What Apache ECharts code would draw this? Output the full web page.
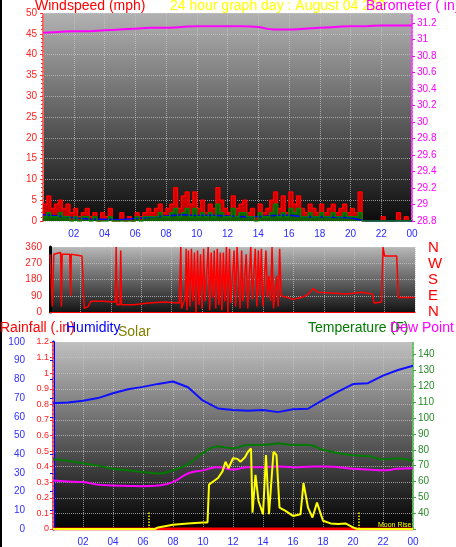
<!DOCTYPE html>
<html><head><meta charset="utf-8">
<script src="https://cdn.jsdelivr.net/npm/echarts@6/dist/echarts.min.js"></script>
<style>html,body{margin:0;padding:0;background:#fff}#c{width:456px;height:547px}</style>
</head><body><div id="c"></div>
<script>
// hourly values (t = 0..24)
const hours = [0,1,2,3,4,5,6,7,8,9,10,11,12,13,14,15,16,17,18,19,20,21,22,23,24];
const barometer = [31.08,31.09,31.10,31.10,31.11,31.12,31.13,31.14,31.14,31.15,31.16,31.16,31.16,31.16,31.15,31.12,31.12,31.13,31.14,31.15,31.16,31.16,31.17,31.17,31.17];
const windAvgBlue = [1.5,1.2,0.8,0.5,0.4,0.3,0.6,0.9,1.2,1.5,1.3,1.4,1.2,1.0,1.0,1.3,1.4,1.0,1.0,0.9,0.8,0,0,0,0];
// 15-minute values
const windGust = [4,6,3,4, 5,3,4,2, 3,1,2,3, 1,2,0,2, 1,3,0,0, 2,0,1,0, 2,1,2,3, 2,3,4,2, 3,4,8,3, 6,7,4,7, 3,5,2,4, 3,8,5,3, 2,6,3,4, 5,2,3,1, 4,2,3,5, 7,3,6,2, 7,4,6,3, 2,4,3,2, 4,2,3,4, 2,3,4,2, 3,2,7,0, 0,0,0,0, 1,0,0,0, 2,0,1,0, 0];
const windAvg = [1,2,1,1, 2,1,1,0, 1,0,1,1, 0,1,0,0, 0,1,0,0, 0,0,0,0, 1,0,1,1, 1,1,2,1, 1,2,3,1, 2,3,1,3, 1,2,1,2, 1,4,2,1, 1,3,1,2, 2,1,1,0, 2,1,1,2, 4,1,2,1, 3,2,3,1, 1,2,1,1, 2,1,1,2, 1,1,2,1, 1,1,2,0, 0,0,0,0, 0,0,0,0, 0,0,0,0, 0];
const windDir = [[0,320],[0.1,330],[0.15,30],[0.25,320],[0.7,330],[0.75,30],[0.8,320],[1.3,320],[1.35,90],[1.4,320],[2.1,310],[2.2,320],[2.25,20],[2.5,30],[2.7,60],[3.5,60],[4.3,55],[4.35,360],[4.4,40],[4.6,40],[4.65,340],[4.7,40],[5.5,40],[6.5,50],[7.5,55],[8.5,50],[8.6,360],[8.65,20],[8.9,80],[8.95,350],[9.0,10],[9.1,340],[9.2,30],[9.3,350],[9.4,60],[9.5,330],[9.6,0],[9.7,340],[9.8,40],[9.9,320],[10.0,20],[10.1,350],[10.2,60],[10.4,360],[10.5,10],[10.6,330],[10.7,80],[10.8,340],[10.9,20],[11.0,350],[11.1,40],[11.2,330],[11.3,10],[11.4,330],[11.5,60],[11.6,360],[11.7,0],[11.8,350],[11.9,50],[12.1,340],[12.2,30],[12.3,360],[12.5,20],[12.6,340],[12.7,60],[12.9,320],[13.0,20],[13.2,360],[13.3,70],[13.5,350],[13.6,30],[13.7,340],[13.8,90],[13.9,350],[14.0,30],[14.2,340],[14.3,80],[14.4,200],[14.5,60],[14.6,360],[14.7,20],[14.9,200],[15.0,30],[15.1,350],[15.2,90],[15.6,80],[16.0,70],[16.5,80],[16.8,90],[17.0,100],[17.3,130],[17.6,110],[18.5,105],[19.5,100],[20.5,110],[21.2,100],[21.3,50],[21.8,55],[21.9,360],[22.0,310],[22.8,310],[22.9,80],[24,80]];
const temperature = [74,73,71.5,70,68,67,66,65,67,71,78,82,81,83,83,84,83,83,80,78,76.5,76,74,74.5,73];
const dewPoint = [60.6,60,59.6,58,57.5,57.2,57,57.5,59.6,65,67,69,67.5,69,69,69.5,69,69.3,69.5,69,68,67.5,67,68,68.3];
const humidity = [67.2,67.6,68.6,70,72.6,74.7,76,77.6,78.9,75.8,68.6,64.5,63.6,63.3,63.6,62.5,64,64.3,69,73.5,77.5,78,82,85,87.3];
const solar = [[0,0],[6.8,0],[7,10],[8,27],[9,36],[10,42],[10.3,42],[10.4,285],[10.7,306],[11,327],[11.3,370],[11.5,432],[11.7,390],[12,454],[12.3,450],[12.5,432],[12.8,460],[13,496],[13.2,517],[13.3,105],[13.5,348],[13.7,180],[14,95],[14.2,475],[14.4,95],[14.7,496],[14.9,475],[15.1,137],[15.5,116],[16,84],[16.5,95],[16.7,295],[17,137],[17.3,74],[17.6,169],[18,53],[18.5,36],[19,32],[19.5,36],[20,10],[20.3,0],[24,0]];
const rainfall = [0,0,0,0,0,0,0,0,0,0,0,0,0,0,0,0,0,0,0,0,0,0,0,0,0];
const moonMarks = [6.4, 20.4];

const pairH = a => hours.map((t,i)=>[t,a[i]]);
const pairQ = a => a.map((v,i)=>[i*0.25,v]);
const grad = (a,b)=>({type:'linear',x:0,y:0,x2:0,y2:1,colorStops:[{offset:0,color:a},{offset:1,color:b}]});
const FONT='Liberation Sans';
const grid1={left:43,right:44,top:13,bottom:326};
const grid2={left:50,right:41,top:247,bottom:235};
const grid3={left:53,right:43,top:342,bottom:17};
const split={show:true,lineStyle:{color:'#c8c8c8',type:'dotted',width:1,opacity:0.7}};
const hfmt=v=> v===0?'':(v===24?'00':String(v).padStart(2,'0'));
function xa(g,showLbl){return {type:'value',gridIndex:g,min:0,max:24,interval:2,
 axisLine:{show:g===1,lineStyle:{color:'#ff0000',width:1}},axisTick:{show:false},
 axisLabel:{show:showLbl,formatter:hfmt,color:'#2a2aff',fontSize:10,fontFamily:FONT,margin:8},
 splitLine:split};}

const chart=echarts.init(document.getElementById('c'));
chart.setOption({
 animation:false,backgroundColor:'#fff',
 grid:[Object.assign({show:true,borderWidth:0,backgroundColor:grad('#b2b2b2','#0c0c0c')},grid1),
       Object.assign({show:true,borderWidth:0,backgroundColor:grad('#b8b8b8','#141414')},grid2),
       Object.assign({show:true,borderWidth:0,backgroundColor:grad('#c0c0c0','#000000')},grid3)],
 xAxis:[xa(0,true),xa(1,false),xa(2,true)],
 yAxis:[
  {type:'value',gridIndex:0,position:'left',min:0,max:50,interval:5,axisLine:{show:true,lineStyle:{color:'#ff6060',type:'dotted',width:2}},
   axisTick:{show:true,length:3,lineStyle:{color:'#ff3030'}},minorTick:{show:true,splitNumber:5,length:2,lineStyle:{color:'#ff3030'}},
   axisLabel:{color:'#ff2020',fontSize:10,fontFamily:FONT,margin:6},splitLine:split},
  {type:'value',gridIndex:0,position:'right',min:28.8,max:31.32,interval:0.2,axisLine:{show:true,lineStyle:{color:'#ff40ff',type:'dotted',width:2}},
   axisTick:{show:true,length:3,lineStyle:{color:'#ff00ff'}},axisLabel:{color:'#ff00ff',fontSize:10,fontFamily:FONT,margin:5,showMaxLabel:false,formatter:v=>String(+v.toFixed(1))},splitLine:{show:false}},
  {type:'value',gridIndex:1,position:'left',min:0,max:360,interval:90,axisLine:{show:true,lineStyle:{color:'#000',width:3}},
   axisTick:{show:false},axisLabel:{color:'#ff2020',fontSize:10,fontFamily:FONT,margin:8},splitLine:split},
  {type:'value',gridIndex:2,position:'left',min:0,max:100,interval:10,offset:22,axisLine:{show:true,lineStyle:{color:'#0000ff',width:3}},
   axisTick:{show:true,length:3,lineStyle:{color:'#0000ff'}},axisLabel:{color:'#3030ff',fontSize:10,fontFamily:FONT,margin:6},splitLine:{show:false}},
  {type:'value',gridIndex:2,position:'left',min:0,max:1.2,interval:0.1,axisLine:{show:true,lineStyle:{color:'#ff6060',type:'dotted',width:2}},
   axisTick:{show:true,length:3,lineStyle:{color:'#ff3030'}},axisLabel:{color:'#ff2020',fontSize:9,fontFamily:FONT,margin:4,formatter:v=>String(+v.toFixed(1))},splitLine:split},
  {type:'value',gridIndex:2,position:'right',min:30,max:148,interval:10,axisLine:{show:true,lineStyle:{color:'#60c060',type:'dotted',width:2}},
   axisTick:{show:true,length:3,lineStyle:{color:'#40a040'}},axisLabel:{color:'#2a8a2a',fontSize:10,fontFamily:FONT,margin:5,showMaxLabel:false,formatter:v=>v===30?'':v},splitLine:{show:false}},
  {type:'value',gridIndex:2,position:'right',min:0,max:1200,show:false}
 ],
 series:[
  {type:'line',xAxisIndex:0,yAxisIndex:1,data:pairH(barometer),smooth:true,symbol:'none',lineStyle:{color:'#ff00ff',width:2}},
  {type:'line',xAxisIndex:0,yAxisIndex:0,data:pairQ(windGust),step:'end',symbol:'none',lineStyle:{color:'#ff0000',width:1.5},areaStyle:{color:'#e00000',opacity:0.9}},
  {type:'line',xAxisIndex:0,yAxisIndex:0,data:pairH(windAvgBlue),symbol:'none',lineStyle:{color:'#0000ff',width:1.5}},
  {type:'line',xAxisIndex:0,yAxisIndex:0,data:pairQ(windAvg),step:'end',symbol:'none',lineStyle:{color:'#008000',width:1.5},areaStyle:{color:'#006a00',opacity:0.9}},
  {type:'line',xAxisIndex:1,yAxisIndex:2,data:windDir,symbol:'none',lineStyle:{color:'#ff0000',width:1.5}},
  {type:'line',xAxisIndex:2,yAxisIndex:3,data:pairH(humidity),symbol:'none',lineStyle:{color:'#1010ff',width:2}},
  {type:'line',xAxisIndex:2,yAxisIndex:5,data:pairH(temperature),smooth:true,symbol:'none',lineStyle:{color:'#007a00',width:2}},
  {type:'line',xAxisIndex:2,yAxisIndex:5,data:pairH(dewPoint),smooth:true,symbol:'none',lineStyle:{color:'#ff00ff',width:2}},
  {type:'line',xAxisIndex:2,yAxisIndex:4,data:pairH(rainfall),symbol:'none',lineStyle:{color:'#ff0000',width:3}},
  {type:'line',xAxisIndex:2,yAxisIndex:6,data:solar,symbol:'none',lineStyle:{color:'#ffff00',width:2},
   markLine:{silent:true,symbol:'none',label:{show:false},lineStyle:{color:'#ffff00',type:'dotted',width:1.5},
     data:moonMarks.map(t=>[{coord:[t,0]},{coord:[t,110]}])}}
 ],
 graphic:[
  {type:'rect',shape:{x:0,y:0,width:2,height:547},style:{fill:'#000'}},
  {type:'text',left:35,top:-1,style:{text:'Windspeed (mph)',fill:'#ff0000',font:'14px '+FONT}},
  {type:'text',left:170,top:-1,style:{text:'24 hour graph day : August 04 202',fill:'#ffff00',font:'14px '+FONT}},
  {type:'text',left:366,top:-1,style:{text:'Barometer ( in)',fill:'#ff00ff',font:'14px '+FONT}},
  {type:'text',left:428,top:240,style:{text:'N\nW\nS\nE\nN',fill:'#ff0000',font:'15px '+FONT,lineHeight:16}},
  {type:'text',left:0,top:321,style:{text:'Rainfall (.in)',fill:'#ff0000',font:'14px '+FONT}},
  {type:'text',left:66,top:321,style:{text:'Humidity',fill:'#0000ff',font:'14px '+FONT}},
  {type:'text',left:118,top:325,style:{text:'Solar',fill:'#808000',font:'14px '+FONT}},
  {type:'text',left:308,top:321,style:{text:'Temperature (F)',fill:'#007a00',font:'14px '+FONT}},
  {type:'text',left:390,top:321,style:{text:'Dew Point (',fill:'#ff00ff',font:'14px '+FONT}},
  {type:'text',left:378,top:522,style:{text:'Moon Rise',fill:'#ffff00',font:'7px '+FONT}}
 ]
});
</script></body></html>
